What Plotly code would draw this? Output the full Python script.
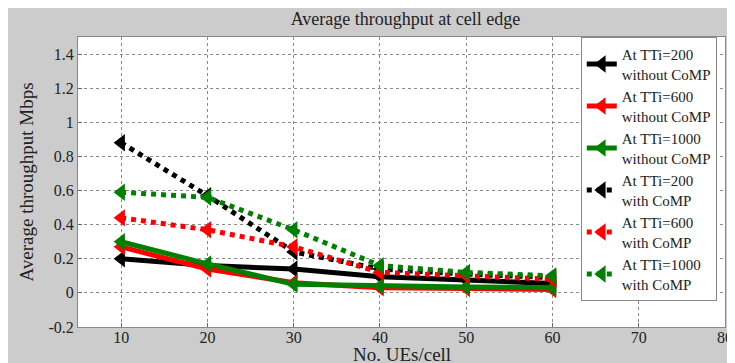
import plotly.graph_objects as go

x_ues = [10, 20, 30, 40, 50, 60]

tti200_without = [0.20, 0.16, 0.14, 0.095, 0.075, 0.055]
tti600_without = [0.27, 0.14, 0.06, 0.03, 0.025, 0.02]
tti1000_without = [0.30, 0.17, 0.05, 0.04, 0.035, 0.03]
tti200_with = [0.88, 0.57, 0.24, 0.14, 0.11, 0.09]
tti600_with = [0.44, 0.37, 0.27, 0.12, 0.10, 0.08]
tti1000_with = [0.59, 0.56, 0.37, 0.16, 0.12, 0.10]

series = [
    ("At TTi=200<br>without CoMP", tti200_without, "#000000", "solid"),
    ("At TTi=600<br>without CoMP", tti600_without, "#ff0000", "solid"),
    ("At TTi=1000<br>without CoMP", tti1000_without, "#008000", "solid"),
    ("At TTi=200<br>with CoMP", tti200_with, "#000000", "dot"),
    ("At TTi=600<br>with CoMP", tti600_with, "#ff0000", "dot"),
    ("At TTi=1000<br>with CoMP", tti1000_with, "#008000", "dot"),
]

xticks = [10, 20, 30, 40, 50, 60, 70, 80]
yticks = [-0.2, 0, 0.2, 0.4, 0.6, 0.8, 1.0, 1.2, 1.4]
yticklabels = ["-0.2", "0", "0.2", "0.4", "0.6", "0.8", "1", "1.2", "1.4"]

serif = "Times New Roman"
txt = "#222222"

# page has an 8px body margin; figure is sized to fill the rest of the window
W, H = 727, 355
L, R, T, B = 70, 2, 29, 36

fig = go.Figure()
for name, vals, color, dash in series:
    fig.add_trace(go.Scatter(
        x=x_ues, y=vals, name=name, mode="lines+markers",
        line=dict(color=color, width=5, dash=dash),
        marker=dict(symbol="triangle-left", size=15, color=color),
    ))

plot_w = W - L - R
plot_h = H - T - B

fig.update_layout(
    width=W, height=H,
    margin=dict(l=L, r=R, t=T, b=B),
    paper_bgcolor="#cccccc",
    plot_bgcolor="white",
    title=dict(text="Average throughput at cell edge", x=(L + plot_w / 2) / W, xanchor="center",
               xref="container", y=1 - 11 / H, yref="container", yanchor="middle",
               font=dict(family=serif, size=18, color=txt)),
    font=dict(family=serif, color=txt),
    showlegend=True,
    legend=dict(x=(587 - 78) / 655, xanchor="left", y=1.0, yanchor="top",
                bgcolor="white", bordercolor="#888888", borderwidth=1,
                font=dict(family=serif, size=15, color=txt),
                tracegroupgap=0, itemwidth=30),
    annotations=[
        dict(text="No. UEs/cell", xref="paper", yref="paper", x=0.5, y=-27 / plot_h,
             xanchor="center", yanchor="middle", showarrow=False,
             font=dict(family=serif, size=19, color=txt)),
    ],
)

fig.update_xaxes(
    range=[5, 80], tickvals=xticks, ticktext=[str(v) for v in xticks],
    showgrid=True, gridcolor="#8a8a8a", griddash="dot", gridwidth=1,
    showline=True, linecolor="#888888", linewidth=1, mirror=True,
    ticks="inside", ticklen=4, tickcolor="#666666", ticklabelstandoff=-4,
    ticklabeloverflow="allow",
    tickfont=dict(family=serif, size=16, color=txt),
    zeroline=False,
)
fig.update_yaxes(
    range=[-0.2, 1.5], tickvals=yticks, ticktext=yticklabels,
    showgrid=True, gridcolor="#8a8a8a", griddash="dot", gridwidth=1,
    showline=True, linecolor="#888888", linewidth=1, mirror=True,
    ticks="inside", ticklen=4, tickcolor="#666666",
    tickfont=dict(family=serif, size=16, color=txt),
    title=dict(text="Average throughput Mbps", font=dict(family=serif, size=19, color=txt), standoff=9),
    zeroline=False,
)

fig.write_html("out.html")
